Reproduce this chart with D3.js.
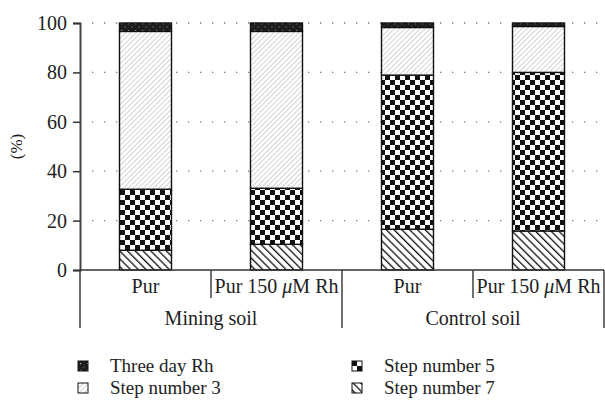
<!DOCTYPE html>
<html>
<head>
<meta charset="utf-8">
<script src="https://cdn.jsdelivr.net/npm/d3@7"></script>
<style>
  body { margin: 0; background: #fff; }
  svg text { font-family: "Liberation Serif", "Times New Roman", serif; fill: #222; }
</style>
</head>
<body>
<svg id="chart" width="605" height="413"></svg>
<script>
// data
const groups = ["Mining soil", "Control soil"];
const treatments = ["Pur", "Pur 150 μM Rh", "Pur", "Pur 150 μM Rh"];
const barGroup = [0, 0, 1, 1];
const stepSeven = [8.0, 10.4, 16.5, 15.8];
const stepFive = [24.7, 22.7, 62.4, 64.2];
const stepThree = [63.9, 63.5, 19.3, 18.6];
const threeDayRh = [3.4, 3.4, 1.8, 1.4];
const yTicks = [0, 20, 40, 60, 80, 100];

const seriesKeys = ["s7", "s5", "s3", "rh"];
const seriesNames = {rh: "Three day Rh", s5: "Step number 5", s3: "Step number 3", s7: "Step number 7"};

let svg = d3.select("#chart");
const margin = {left: 80, right: 1, top: 23, bottom: 143};
const width = 605, height = 413;

let rows = treatments.map((t, i) => ({
    idx: i, s7: stepSeven[i], s5: stepFive[i], s3: stepThree[i], rh: threeDayRh[i]
}));

let x = d3.scaleBand()
    .domain(d3.range(treatments.length))
    .range([margin.left, width - margin.right])
    .paddingInner(0).paddingOuter(0);

let y = d3.scaleLinear()
    .domain([0, 100])
    .range([height - margin.bottom, margin.top]);

// patterns
let defs = svg.append("defs");

let pRh = defs.append("pattern").attr("id", "p-rh")
    .attr("patternUnits", "userSpaceOnUse").attr("width", 7).attr("height", 7);
pRh.append("rect").attr("width", 7).attr("height", 7).attr("fill", "#1e1e1e");
pRh.append("rect").attr("x", 2).attr("y", 2).attr("width", 1.2).attr("height", 1.2).attr("fill", "#bbb");
pRh.append("rect").attr("x", 5.5).attr("y", 5.5).attr("width", 1).attr("height", 1).attr("fill", "#888");

let pS3 = defs.append("pattern").attr("id", "p-s3")
    .attr("patternUnits", "userSpaceOnUse").attr("width", 3.6).attr("height", 3.6)
    .attr("patternTransform", "rotate(45)");
pS3.append("rect").attr("width", 3.6).attr("height", 3.6).attr("fill", "#fff");
pS3.append("line").attr("x1", 0).attr("y1", 0).attr("x2", 0).attr("y2", 3.6)
    .attr("stroke", "#b0b0b0").attr("stroke-width", 1.1);

let pS5 = defs.append("pattern").attr("id", "p-s5")
    .attr("patternUnits", "userSpaceOnUse").attr("width", 10).attr("height", 10);
pS5.append("rect").attr("width", 10).attr("height", 10).attr("fill", "#fff");
pS5.append("rect").attr("width", 5).attr("height", 5).attr("fill", "#111");
pS5.append("rect").attr("x", 5).attr("y", 5).attr("width", 5).attr("height", 5).attr("fill", "#111");

let pS7 = defs.append("pattern").attr("id", "p-s7")
    .attr("patternUnits", "userSpaceOnUse").attr("width", 5.5).attr("height", 5.5)
    .attr("patternTransform", "rotate(-45)");
pS7.append("rect").attr("width", 5.5).attr("height", 5.5).attr("fill", "#fff");
pS7.append("line").attr("x1", 0).attr("y1", 0).attr("x2", 0).attr("y2", 5.5)
    .attr("stroke", "#111").attr("stroke-width", 2.6);

const fills = {rh: "url(#p-rh)", s3: "url(#p-s3)", s5: "url(#p-s5)", s7: "url(#p-s7)"};

// dotted grid
svg.append("g")
    .selectAll("line")
    .data(yTicks.filter(d => d > 0))
    .join("line")
    .attr("x1", margin.left + 12).attr("x2", width - margin.right)
    .attr("y1", d => y(d)).attr("y2", d => y(d))
    .attr("stroke", "#777").attr("stroke-width", 1.3)
    .attr("stroke-dasharray", "1.3,10.7");

// stacked bars
let stacked = d3.stack().keys(seriesKeys)(rows);
const barW = 52;

svg.append("g")
    .selectAll("g")
    .data(stacked)
    .join("g")
    .attr("fill", d => fills[d.key])
    .selectAll("rect")
    .data(d => d)
    .join("rect")
    .attr("x", d => x(d.data.idx) + (x.bandwidth() - barW) / 2)
    .attr("width", barW)
    .attr("y", d => y(d[1]))
    .attr("height", d => y(d[0]) - y(d[1]))
    .attr("stroke", "#111")
    .attr("stroke-width", 1.4);

// y axis
let yAxis = svg.append("g")
    .attr("transform", `translate(${margin.left},0)`)
    .call(d3.axisLeft(y).tickValues(yTicks).tickSize(7).tickPadding(6));
yAxis.select(".domain").attr("stroke", "#444").attr("stroke-width", 2);
yAxis.selectAll(".tick line").attr("stroke", "#333").attr("stroke-width", 1.5);
yAxis.selectAll(".tick text")
    .style("font-size", "20px")
    .attr("fill", "#222");

svg.append("text")
    .attr("transform", `translate(22,${(y(0) + y(100)) / 2}) rotate(-90)`)
    .attr("text-anchor", "middle")
    .style("font-size", "17px")
    .text("(%)");

// x axis with two-level category labels
const y0 = y(0);
let xAxis = svg.append("g");
xAxis.append("line")
    .attr("x1", margin.left).attr("x2", width - margin.right)
    .attr("y1", y0).attr("y2", y0)
    .attr("stroke", "#333").attr("stroke-width", 1.6);

let bounds = d3.range(treatments.length + 1).map(i =>
    i < treatments.length ? x(i) : x(i - 1) + x.bandwidth());
xAxis.selectAll(".sep")
    .data(bounds)
    .join("line")
    .attr("class", "sep")
    .attr("x1", d => d).attr("x2", d => d)
    .attr("y1", y0)
    .attr("y2", (d, i) => (i % 2 === 0 ? y0 + 58 : y0 + 28))
    .attr("stroke", "#333").attr("stroke-width", 1.4);

xAxis.selectAll(".tlabel")
    .data(treatments)
    .join("text")
    .attr("class", "tlabel")
    .attr("x", (d, i) => x(i) + x.bandwidth() / 2)
    .attr("y", y0 + 23)
    .attr("text-anchor", "middle")
    .style("font-size", "20px")
    .each(function (d) {
        let t = d3.select(this);
        let parts = d.split("μ");
        t.append("tspan").text(parts[0]);
        if (parts.length > 1) {
            t.append("tspan").style("font-style", "italic").text("μ");
            t.append("tspan").text(parts[1]);
        }
    });

xAxis.selectAll(".glabel")
    .data(groups)
    .join("text")
    .attr("class", "glabel")
    .attr("x", (d, g) => {
        let idx = barGroup.map((b, i) => b === g ? i : -1).filter(i => i >= 0);
        return (x(idx[0]) + x(idx[idx.length - 1]) + x.bandwidth()) / 2;
    })
    .attr("y", y0 + 55)
    .attr("text-anchor", "middle")
    .style("font-size", "20px")
    .text(d => d);

// legend
const legendOrder = ["rh", "s5", "s3", "s7"];
let legend = svg.append("g")
    .selectAll("g")
    .data(legendOrder)
    .join("g")
    .attr("transform", (d, i) => `translate(${i % 2 === 0 ? 78 : 352},${361 + Math.floor(i / 2) * 22})`);
legend.append("rect")
    .attr("width", 10).attr("height", 10)
    .attr("fill", d => fills[d])
    .attr("stroke", "#111").attr("stroke-width", 1);
legend.append("text")
    .attr("x", 32).attr("y", 11)
    .style("font-size", "19px")
    .text(d => seriesNames[d]);
</script>
</body>
</html>
